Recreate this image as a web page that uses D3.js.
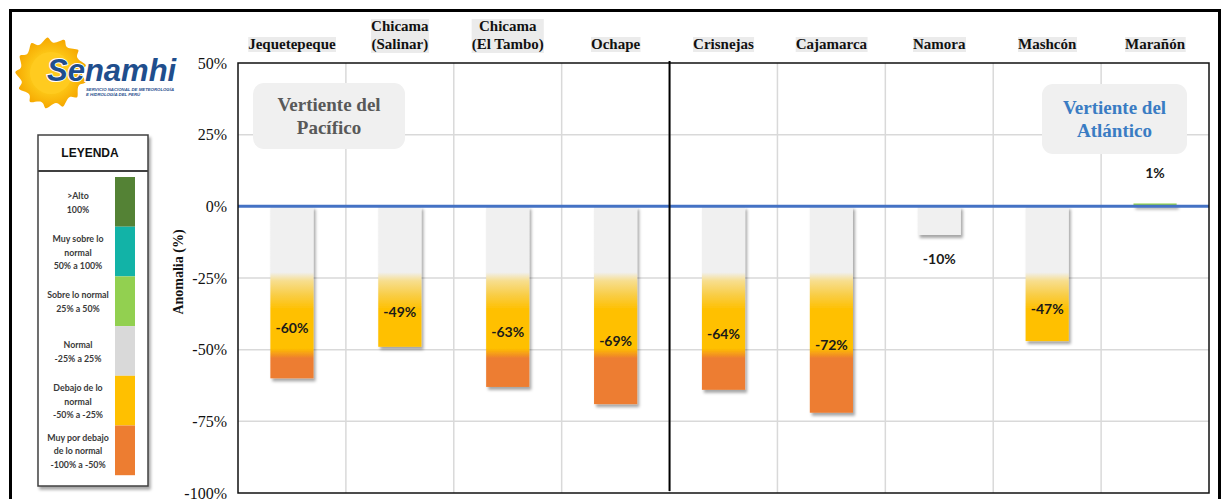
<!DOCTYPE html>
<html>
<head>
<meta charset="utf-8">
<script src="https://cdn.jsdelivr.net/npm/d3@7"></script>
<style>
  html, body { margin: 0; padding: 0; background: #ffffff; }
  svg { display: block; }
</style>
</head>
<body>
<svg id="chart" width="1222" height="499"></svg>
<script>
// ---- data ----
const categories = ["Jequetepeque", "Chicama (Salinar)", "Chicama (El Tambo)", "Ochape",
                    "Crisnejas", "Cajamarca", "Namora", "Mashcón", "Marañón"];
const slopes = ["Pacífico", "Pacífico", "Pacífico", "Pacífico",
                "Atlántico", "Atlántico", "Atlántico", "Atlántico", "Atlántico"];
const anomalies = [-60, -49, -63, -69, -64, -72, -10, -47, 1];
const yTicks = [50, 25, 0, -25, -50, -75, -100];
const slopeTitles = [["Vertiente del", "Pacífico"], ["Vertiente del", "Atlántico"]];
const legendColors = ["#548235", "#12B3A7", "#92D050", "#D9D9D9", "#FFC000", "#ED7D31"];
const legendTexts = [
  [">Alto", "100%"],
  ["Muy sobre lo", "normal", "50% a 100%"],
  ["Sobre lo normal", "25% a 50%"],
  ["Normal", "-25% a 25%"],
  ["Debajo de  lo", "normal", "-50% a -25%"],
  ["Muy por debajo", "de lo normal", "-100% a -50%"]
];

// ---- layout ----
const W = 1222, H = 499;
const plot = { left: 238, right: 1209, top: 63, bottom: 493 };
const serif = "'Liberation Serif', 'Times New Roman', serif";
const sans = "'Liberation Sans', Arial, sans-serif";
const labelFont = "Lato, 'Open Sans', sans-serif";
const pct = v => String(v) + "%";

const svg = d3.select("#chart");
const defs = svg.append("defs");

const x = d3.scaleBand()
  .domain(categories)
  .range([plot.left, plot.right])
  .paddingInner(0.6)
  .paddingOuter(0.3);
const step = x.step();

const y = d3.scaleLinear()
  .domain([50, -100])
  .range([plot.top, plot.bottom]);

// drop shadow used by the bars
const shadow = defs.append("filter")
  .attr("id", "barShadow")
  .attr("filterUnits", "userSpaceOnUse")
  .attr("x", 0).attr("y", 0).attr("width", W).attr("height", H);
shadow.append("feDropShadow")
  .attr("dx", 2).attr("dy", 3).attr("stdDeviation", 1.6)
  .attr("flood-color", "#000").attr("flood-opacity", 0.35);

// fill of the bars follows the anomaly classes along the value axis
const fillStops = [
  [50, "#92D050"], [0.01, "#92D050"], [0, "#F0F0F0"], [-23, "#F0F0F0"],
  [-26, "#F7DE8E"], [-31, "#F9CD45"], [-36, "#FFC000"], [-49.5, "#FFC000"],
  [-53, "#ED7D31"], [-100, "#ED7D31"]
];
const grad = defs.append("linearGradient")
  .attr("id", "anomalyFill")
  .attr("gradientUnits", "userSpaceOnUse")
  .attr("x1", 0).attr("x2", 0)
  .attr("y1", y(50)).attr("y2", y(-100));
grad.selectAll("stop").data(fillStops).join("stop")
  .attr("offset", d => (y(d[0]) - y(50)) / (y(-100) - y(50)))
  .attr("stop-color", d => d[1]);

// outer frame
svg.append("rect")
  .attr("x", 10.5).attr("y", 10.5)
  .attr("width", 1209).attr("height", 520)
  .attr("fill", "#fff").attr("stroke", "#000").attr("stroke-width", 3);

// ---- logo ----
const sunGrad = defs.append("radialGradient").attr("id", "sunFill");
sunGrad.append("stop").attr("offset", 0.4).attr("stop-color", "#FFD21F");
sunGrad.append("stop").attr("offset", 1).attr("stop-color", "#F6A800");
const logo = svg.append("g").attr("transform", "translate(51,73)");
const sunPts = d3.range(26).map(i => [i * Math.PI / 13 + (i % 2 ? 0.18 : 0), i % 2 ? 38 : 24]);
logo.append("path")
  .attr("d", d3.lineRadial().curve(d3.curveBasisClosed)(sunPts))
  .attr("transform", "scale(1.08)")
  .attr("fill", "url(#sunFill)");
logo.append("circle").attr("r", 21).attr("fill", "#FFCB1F");
svg.append("text")
  .attr("x", 47).attr("y", 81)
  .attr("font-family", sans).attr("font-weight", "bold").attr("font-style", "italic")
  .attr("font-size", 31).attr("fill", "#1F4E8D")
  .attr("stroke", "#fff").attr("stroke-width", 2).attr("paint-order", "stroke")
  .text("Senamhi");
["SERVICIO NACIONAL DE METEOROLOGÍA", "E HIDROLOGÍA DEL PERÚ"].forEach((t, i) => {
  svg.append("text")
    .attr("x", 86).attr("y", 91 + i * 5)
    .attr("font-family", sans).attr("font-weight", "bold").attr("font-style", "italic")
    .attr("font-size", 4.3).attr("fill", "#1F4E8D")
    .text(t);
});

// ---- legend ----
const lg = svg.append("g");
lg.append("rect")
  .attr("x", 38).attr("y", 135).attr("width", 110).attr("height", 351)
  .attr("fill", "#fff").attr("stroke", "#404040").attr("stroke-width", 1.5)
  .attr("filter", "url(#barShadow)");
lg.append("line")
  .attr("x1", 38).attr("x2", 148).attr("y1", 171).attr("y2", 171)
  .attr("stroke", "#404040").attr("stroke-width", 2.2);
lg.append("text")
  .attr("x", 90).attr("y", 153).attr("dy", "0.35em")
  .attr("text-anchor", "middle")
  .attr("font-family", sans).attr("font-weight", "bold").attr("font-size", 12)
  .attr("fill", "#111")
  .text("LEYENDA");
const swH = 49.7;
legendColors.forEach((c, i) => {
  const top = 177 + i * swH;
  lg.append("rect")
    .attr("x", 115).attr("y", top).attr("width", 20).attr("height", swH)
    .attr("fill", c);
  const lines = legendTexts[i];
  const lh = 13.7;
  const y0 = top + swH / 2 + 1 - (lines.length - 1) * lh / 2;
  lines.forEach((t, j) => {
    lg.append("text")
      .attr("x", 78).attr("y", y0 + j * lh).attr("dy", "0.35em")
      .attr("text-anchor", "middle")
      .attr("font-family", labelFont).attr("font-weight", "bold").attr("font-size", 8.8)
      .attr("fill", "#3a3a3a")
      .text(t);
  });
});

// ---- gridlines ----
const grid = svg.append("g");
grid.selectAll("line.h").data(yTicks.slice(1, -1)).join("line")
  .attr("x1", plot.left).attr("x2", plot.right)
  .attr("y1", d => y(d)).attr("y2", d => y(d))
  .attr("stroke", "#D9D9D9").attr("stroke-width", 1.5);
grid.selectAll("line.v").data(d3.range(1, categories.length)).join("line")
  .attr("x1", i => plot.left + i * step).attr("x2", i => plot.left + i * step)
  .attr("y1", plot.top).attr("y2", plot.bottom)
  .attr("stroke", "#D9D9D9").attr("stroke-width", 1.5);

// ---- slope title boxes ----
const boxes = [
  { x: plot.left + 15, y: 83, w: 152, h: 66, color: "#595959" },
  { x: plot.right - 22 - 145, y: 84, w: 145, h: 70, color: "#3A7CC3" }
];
boxes.forEach((b, i) => {
  svg.append("rect")
    .attr("x", b.x).attr("y", b.y).attr("width", b.w).attr("height", b.h)
    .attr("rx", 11).attr("fill", "#F0F0F0");
  slopeTitles[i].forEach((t, j) => {
    svg.append("text")
      .attr("x", b.x + b.w / 2)
      .attr("y", b.y + b.h / 2 - 11.5 + j * 23).attr("dy", "0.35em")
      .attr("text-anchor", "middle")
      .attr("font-family", serif).attr("font-weight", "bold").attr("font-size", 19)
      .attr("fill", b.color)
      .text(t);
  });
});

// ---- bars ----
const rows = categories.map((c, i) => ({ cat: c, value: anomalies[i], slope: slopes[i] }));
svg.append("g").selectAll("rect").data(rows).join("rect")
  .attr("x", d => x(d.cat))
  .attr("width", x.bandwidth())
  .attr("y", d => y(Math.max(0, d.value)))
  .attr("height", d => Math.abs(y(d.value) - y(0)))
  .attr("fill", "url(#anomalyFill)")
  .attr("filter", "url(#barShadow)");

// zero line
svg.append("line")
  .attr("x1", plot.left).attr("x2", plot.right)
  .attr("y1", y(0)).attr("y2", y(0))
  .attr("stroke", "#4472C4").attr("stroke-width", 3);

// plot frame
svg.append("rect")
  .attr("x", plot.left).attr("y", plot.top)
  .attr("width", plot.right - plot.left).attr("height", plot.bottom - plot.top)
  .attr("fill", "none").attr("stroke", "#111").attr("stroke-width", 1.5);

// divider between the two slopes
const divIdx = slopes.findIndex(s => s !== slopes[0]);
svg.append("line")
  .attr("x1", plot.left + divIdx * step).attr("x2", plot.left + divIdx * step)
  .attr("y1", plot.top - 2).attr("y2", plot.bottom - 2)
  .attr("stroke", "#000").attr("stroke-width", 2);

// value labels
svg.append("g").selectAll("text").data(rows).join("text")
  .attr("x", d => x(d.cat) + x.bandwidth() / 2)
  .attr("y", d => {
    if (d.value >= 0) return y(d.value) - 30;
    if (d.value > -25) return y(d.value) + 24;
    return y((d.value - 25) / 2);
  })
  .attr("dy", "0.35em")
  .attr("text-anchor", "middle")
  .attr("font-family", labelFont).attr("font-weight", "bold").attr("font-size", 14)
  .attr("fill", "#1a1a1a")
  .text(d => pct(d.value));

// ---- y axis ----
const yAxis = svg.append("g")
  .attr("transform", `translate(${plot.left},0)`)
  .call(d3.axisLeft(y).tickValues(yTicks).tickSize(0).tickPadding(11).tickFormat(pct));
yAxis.select(".domain").remove();
yAxis.selectAll("text")
  .attr("font-family", serif).attr("font-size", 16).attr("fill", "#111");

svg.append("text")
  .attr("transform", "translate(178,272) rotate(-90)")
  .attr("dy", "0.35em")
  .attr("text-anchor", "middle")
  .attr("font-family", serif).attr("font-weight", "bold").attr("font-size", 14)
  .attr("fill", "#111")
  .text("Anomalia (%)");

// ---- category labels ----
const catG = svg.append("g");
categories.forEach(c => {
  const paren = c.indexOf(" (");
  const lines = paren > 0 ? [c.slice(0, paren), c.slice(paren + 1)] : [c];
  const g = catG.append("g");
  const cx = x(c) + x.bandwidth() / 2;
  const texts = lines.map((t, j) => g.append("text")
    .attr("x", cx)
    .attr("y", 49 - (lines.length - 1 - j) * 18)
    .attr("text-anchor", "middle")
    .attr("font-family", serif).attr("font-weight", "bold").attr("font-size", 15)
    .attr("fill", "#111")
    .text(t));
  const bbs = texts.map(t => t.node().getBBox());
  const x0 = d3.min(bbs, b => b.x), x1 = d3.max(bbs, b => b.x + b.width);
  const y0 = d3.min(bbs, b => b.y), y1 = d3.max(bbs, b => b.y + b.height);
  g.insert("rect", "text")
    .attr("x", x0).attr("y", y0 + 1)
    .attr("width", x1 - x0).attr("height", y1 - y0 - 1)
    .attr("fill", "#EBEBEB");
});
</script>
</body>
</html>
